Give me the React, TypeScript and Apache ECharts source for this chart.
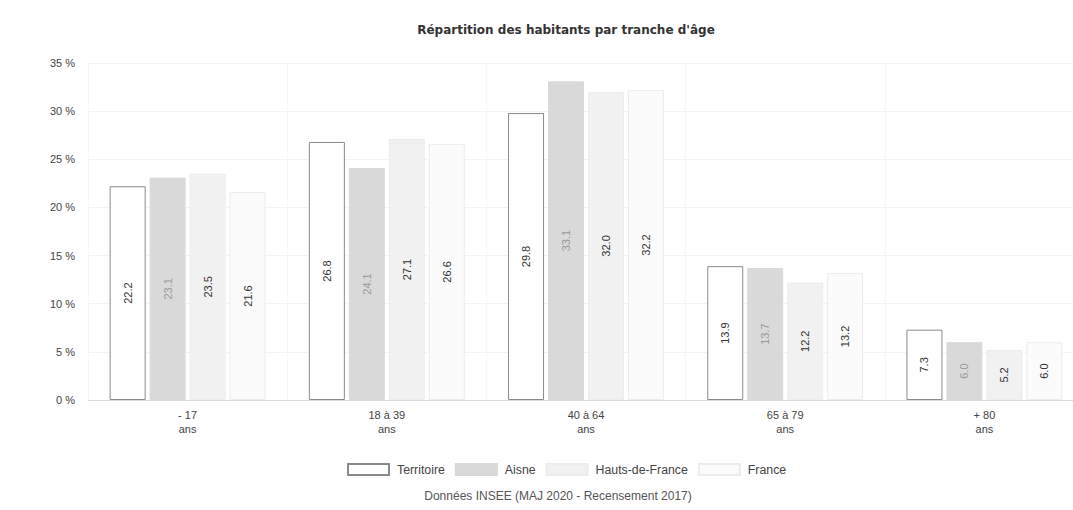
import React, { useEffect, useRef } from "react";
import * as echarts from "echarts";

const categories = ["- 17\nans", "18 à 39\nans", "40 à 64\nans", "65 à 79\nans", "+ 80\nans"];
const seriesNames = ["Territoire", "Aisne", "Hauts-de-France", "France"];
const territoire = [22.2, 26.8, 29.8, 13.9, 7.3];
const aisne = [23.1, 24.1, 33.1, 13.7, 6.0];
const hautsDeFrance = [23.5, 27.1, 32.0, 12.2, 5.2];
const france = [21.6, 26.6, 32.2, 13.2, 6.0];

const FONT = "Liberation Sans, Arial, sans-serif";

export default function App() {
  const ref = useRef<HTMLDivElement>(null);
  useEffect(() => {
    if (!ref.current) return;
    const chart = echarts.init(ref.current, null, { renderer: "svg" });
    const styles = [
      { fill: "#ffffff", border: "#8a8a8a", label: "#333" },
      { fill: "#d9d9d9", border: "#d9d9d9", label: "#9a9a9a" },
      { fill: "#f1f1f1", border: "#ececec", label: "#333" },
      { fill: "#fbfbfb", border: "#ececec", label: "#333" },
    ];
    const datas = [territoire, aisne, hautsDeFrance, france];
    chart.setOption({
      animation: false,
      backgroundColor: "#ffffff",
      title: [
        {
          text: "Répartition des habitants par tranche d'âge",
          left: 561,
          textAlign: "center",
          top: 19,
          textStyle: { fontFamily: "DejaVu Sans", fontSize: 12, fontWeight: "bold", color: "#333" },
        },
        {
          text: "Données INSEE (MAJ 2020 - Recensement 2017)",
          left: 553,
          textAlign: "center",
          top: 485,
          textStyle: { fontFamily: FONT, fontSize: 12, fontWeight: "normal", color: "#555" },
        },
      ],
      legend: {
        data: seriesNames.map((n) => ({ name: n, icon: "rect" })),
        left: 342,
        top: 458,
        itemWidth: 41,
        itemHeight: 11,
        itemGap: 10,
        textStyle: { fontFamily: FONT, fontSize: 12.3, color: "#444", padding: [0, 0, 0, 3] },
      },
      grid: { left: 88, width: 996, top: 63, height: 337 },
      xAxis: {
        type: "category",
        data: categories,
        axisLine: { lineStyle: { color: "#dcdcdc" } },
        axisTick: { show: false },
        axisLabel: { fontFamily: FONT, fontSize: 11, color: "#444", lineHeight: 14, margin: 8 },
        splitLine: { show: true, lineStyle: { color: "#f6f6f6" } },
      },
      yAxis: {
        type: "value",
        min: 0,
        max: 35,
        interval: 5,
        axisLabel: { formatter: "{value} %", fontFamily: FONT, fontSize: 11, color: "#444", margin: 13 },
        axisLine: { show: false },
        axisTick: { show: false },
        splitLine: { lineStyle: { color: "#f3f3f3" } },
      },
      series: datas.map((d, i) => ({
        name: seriesNames[i],
        type: "bar",
        data: d,
        barWidth: 36,
        barGap: "11%",
        itemStyle: {
          color: styles[i].fill,
          borderColor: styles[i].border,
          borderWidth: 1,
        },
        label: {
          show: true,
          position: "inside",
          rotate: 90,
          formatter: (p: any) => p.value.toFixed(1),
          fontFamily: FONT,
          fontSize: 11,
          color: styles[i].label,
        },
      })),
    });
    return () => chart.dispose();
  }, []);
  return (
    <div style={{ position: "absolute", left: 0, top: 0, width: 1073, height: 510, overflow: "hidden" }}>
      <div ref={ref} style={{ width: 1100, height: 510 }} />
    </div>
  );
}
